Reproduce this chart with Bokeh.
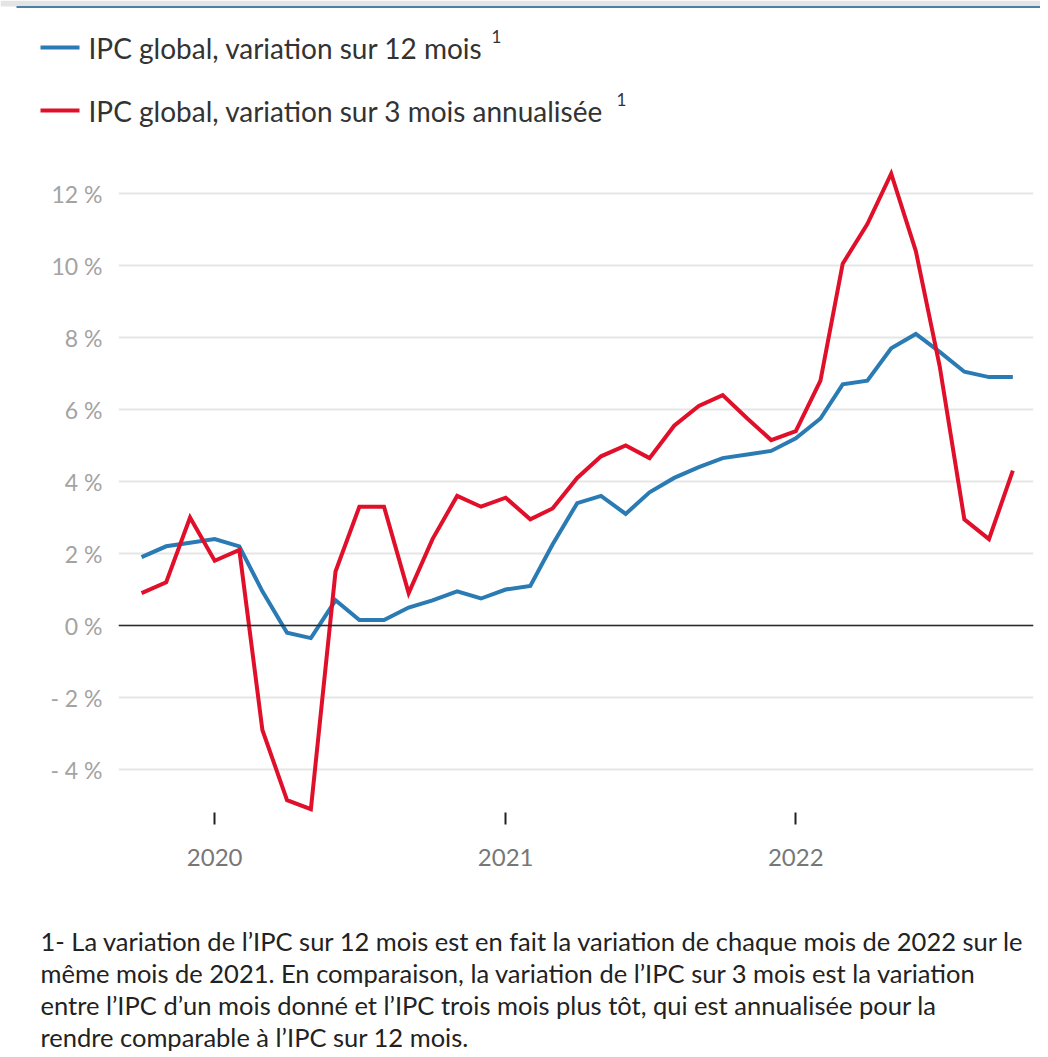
import pandas as pd
from bokeh.plotting import figure
from bokeh.layouts import column
from bokeh.models import Range1d, FixedTicker, Span, Label, ColumnDataSource
from bokeh.embed import file_html
from bokeh.resources import INLINE

# ---------------- data ----------------
months = pd.date_range("2019-10-01", "2022-10-01", freq="MS")

cpi_12m = [1.9, 2.2, 2.3, 2.4, 2.2, 0.95, -0.2, -0.35, 0.7, 0.15, 0.15, 0.5,
           0.7, 0.95, 0.75, 1.0, 1.1, 2.25, 3.4, 3.6, 3.1, 3.7, 4.1, 4.4,
           4.65, 4.75, 4.85, 5.2, 5.75, 6.7, 6.8, 7.7, 8.1, 7.6, 7.05, 6.9, 6.9]

cpi_3m = [0.9, 1.2, 3.0, 1.8, 2.1, -2.9, -4.85, -5.1, 1.5, 3.3, 3.3, 0.9,
          2.4, 3.6, 3.3, 3.55, 2.95, 3.25, 4.1, 4.7, 5.0, 4.65, 5.55, 6.1,
          6.4, 5.75, 5.15, 5.4, 6.8, 10.05, 11.15, 12.55, 10.4, 7.2, 2.95, 2.4, 4.3]

series_names = ["IPC global, variation sur 12 mois",
                "IPC global, variation sur 3 mois annualisée"]

year_tick_dates = ["2020-01-01", "2021-01-01", "2022-01-01"]
year_tick_labels = ["2020", "2021", "2022"]

y_ticks = [-4, -2, 0, 2, 4, 6, 8, 10, 12]
y_tick_labels = ["- 4 %", "- 2 %", "0 %", "2 %", "4 %", "6 %", "8 %", "10 %", "12 %"]

footnote = [
    "1- La variation de l’IPC sur 12 mois est en fait la variation de chaque mois de 2022 sur le",
    "même mois de 2021. En comparaison, la variation de l’IPC sur 3 mois est la variation",
    "entre l’IPC d’un mois donné et l’IPC trois mois plus tôt, qui est annualisée pour la",
    "rendre comparable à l’IPC sur 12 mois.",
]

# ---------------- style / layout ----------------
BLUE = "#2a7bb3"
RED = "#e0102b"
FONT = "Lato"
W = 1040
TOP_H = 157          # legend strip
MAIN_H = 743         # chart (frame 655 px + 88 px for the x axis)
FOOT_H = 155         # footnote strip


def ms(d):
    return pd.Timestamp(d).value / 1e6


def strip(height):
    f = figure(width=W, height=height, output_backend="svg", toolbar_location=None,
               x_range=Range1d(0, W), y_range=Range1d(height, 0),
               min_border=0, min_border_left=0, min_border_right=0,
               min_border_top=0, min_border_bottom=0,
               x_axis_type=None, y_axis_type=None, frame_align=False)
    f.outline_line_color = None
    f.grid.visible = False
    return f


# ----- legend strip -----
top = strip(TOP_H)
# page frame band at the very top
top.quad(left=[0], right=[W], top=[0], bottom=[6], fill_color="#e4e4e4", line_color=None)
top.segment(x0=[16], y0=[6.5], x1=[W], y1=[6.5], line_color="#4a7fa8", line_width=2)

leg_y = [47, 110]
leg_sup_x = [491, 616]
top.segment(x0=[40, 40], y0=leg_y, x1=[79, 79], y1=leg_y,
            line_color=[BLUE, RED], line_width=4)
for name, ly, sx in zip(series_names, leg_y, leg_sup_x):
    top.add_layout(Label(x=88, y=ly, text=name, text_font=FONT,
                         text_font_size="28px", text_color="#333333",
                         text_baseline="middle", text_align="left"))
    top.add_layout(Label(x=sx, y=ly - 11, text="1", text_font=FONT,
                         text_font_size="17px", text_color="#333333",
                         text_baseline="middle", text_align="left"))

# ----- main chart -----
X0, X1 = ms("2019-09-02"), ms("2022-10-27")
Y0, Y1 = -5.194, 13.0

p = figure(width=W, height=MAIN_H, output_backend="svg", toolbar_location=None,
           x_range=Range1d(X0, X1), y_range=Range1d(Y0, Y1),
           min_border_left=118, min_border_right=7,
           min_border_top=0, min_border_bottom=88, frame_align=False)
p.outline_line_color = None

src = ColumnDataSource(dict(x=[ms(m) for m in months], a=cpi_12m, b=cpi_3m))

p.xgrid.visible = False
p.ygrid.ticker = FixedTicker(ticks=y_ticks)
p.ygrid.grid_line_color = "#e6e6e6"
p.ygrid.grid_line_width = 2

p.add_layout(Span(location=0, dimension="width", line_color="#2b2b2b", line_width=1.6))

p.line("x", "a", source=src, line_color=BLUE, line_width=4, line_join="miter")
p.line("x", "b", source=src, line_color=RED, line_width=4, line_join="miter")

ya = p.yaxis[0]
ya.ticker = FixedTicker(ticks=y_ticks)
ya.major_label_overrides = {t: l for t, l in zip(y_ticks, y_tick_labels)}
ya.axis_line_color = None
ya.major_tick_line_color = None
ya.minor_tick_line_color = None
ya.major_tick_out = 0
ya.major_tick_in = 0
ya.major_label_standoff = 16
ya.major_label_text_font = FONT
ya.major_label_text_font_size = "23px"
ya.major_label_text_color = "#a3a3a3"

xt = [ms(d) for d in year_tick_dates]
xa = p.xaxis[0]
xa.ticker = FixedTicker(ticks=xt)
xa.major_label_overrides = {t: l for t, l in zip(xt, year_tick_labels)}
xa.axis_line_color = None
xa.minor_tick_line_color = None
xa.major_tick_line_color = "#222222"
xa.major_tick_line_width = 2
xa.major_tick_in = 0
xa.major_tick_out = 12
xa.major_label_standoff = 24
xa.major_label_text_font = FONT
xa.major_label_text_font_size = "24px"
xa.major_label_text_color = "#777777"

# ----- footnote strip -----
foot = strip(FOOT_H)
for i, line in enumerate(footnote):
    foot.add_layout(Label(x=40, y=40 + 32 * i, text=line, text_font=FONT,
                          text_font_size="25.5px", text_color="#222222",
                          text_baseline="middle", text_align="left"))

layout = column(top, p, foot, spacing=0)
open("out.html", "w").write(file_html(layout, INLINE))
